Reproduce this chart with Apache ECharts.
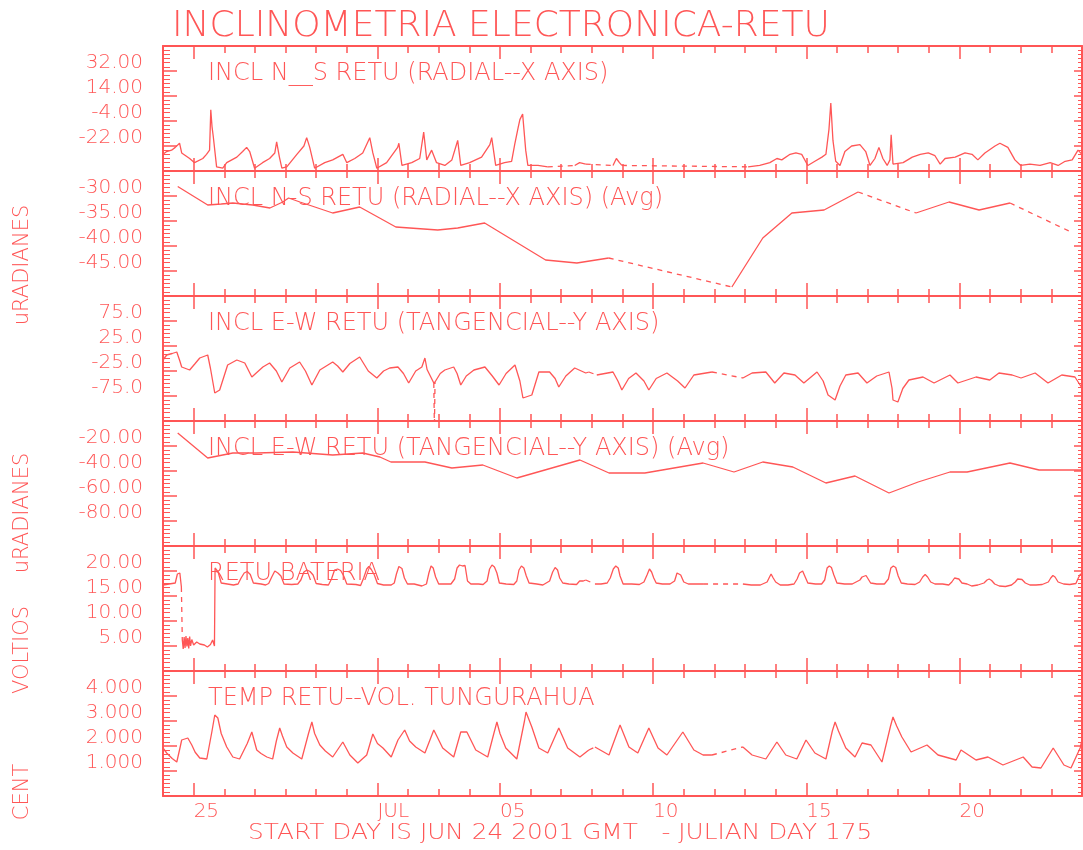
<!DOCTYPE html>
<html>
<head>
<meta charset="utf-8">
<title>INCLINOMETRIA ELECTRONICA-RETU</title>
<script src="https://cdn.jsdelivr.net/npm/echarts@6.0.0/dist/echarts.min.js"></script>
<style>
  html, body { margin: 0; padding: 0; background: #ffffff; }
  #chart { width: 1083px; height: 850px; }
</style>
</head>
<body>
<div id="chart"></div>
<script>
// x is days since JUN 24 2001 00:00 GMT
var dayTickValues = [1, 7, 11, 16, 21, 26];
var dayTickLabels = ["25", "JUL", "05", "10", "15", "20"];

var panelTitles = [
  "INCL N__S RETU (RADIAL--X AXIS)",
  "INCL N-S RETU (RADIAL--X AXIS) (Avg)",
  "INCL E-W RETU (TANGENCIAL--Y AXIS)",
  "INCL E-W RETU (TANGENCIAL--Y AXIS) (Avg)",
  "RETU BATERIA",
  "TEMP RETU--VOL. TUNGURAHUA"
];
var yMins = [-40, -50, -125, -100, 0, 0];
var yMaxs = [50, -25, 125, 0, 25, 5];
var ySteps = [18, 5, 50, 20, 5, 1];
var yDecimals = [2, 2, 1, 2, 2, 3];

// null = missing data (drawn dashed across the gap)
var nsRaw = [
  [0,-28],[0.12,-26],[0.28,-25],[0.4,-23],[0.54,-20],[0.61,-27],[0.87,-31],[1.03,-34],[1.3,-31],[1.42,-28],
  [1.52,-25],[1.56,4],[1.6,-8],[1.64,-15],[1.75,-37],[1.95,-38],[2.08,-34],[2.41,-30],[2.6,-26],[2.73,-23],
  [2.83,-26],[2.99,-38],[3.25,-34],[3.48,-31],[3.65,-27],[3.71,-19],[3.8,-30],[3.88,-38],[4.04,-37],[4.37,-28],
  [4.6,-22],[4.69,-16],[4.79,-23],[4.95,-38],[5.28,-34],[5.54,-32],[5.87,-28],[6.0,-34],[6.26,-31],[6.52,-27],
  [6.75,-16],[6.85,-27],[6.98,-38],[7.3,-34],[7.66,-23],[7.7,-20],[7.8,-36],[8.12,-34],[8.38,-31],[8.51,-12],
  [8.61,-32],[8.77,-25],[8.93,-34],[9.2,-36],[9.43,-32],[9.62,-18],[9.72,-36],[10.01,-34],[10.4,-30],[10.67,-21],
  [10.73,-16],[10.86,-36],[11.15,-34],[11.38,-33],[11.48,-21],[11.6,-8],[11.65,-3],[11.74,1],[11.84,-25],[11.91,-36],
  [12.24,-36],[12.56,-37],
  null,
  [13.44,-36],[13.6,-34],[13.8,-35],
  null,
  [14.69,-36],[14.8,-31],[14.9,-34],[14.98,-36],
  null,
  [19.1,-37],[19.48,-36],[19.81,-34],[20.04,-31],[20.2,-32],[20.47,-28],[20.66,-27],[20.85,-28],[21.05,-36],[21.28,-33],
  [21.51,-30],[21.64,-28],[21.74,-10],[21.8,9],[21.87,-18],[21.96,-33],[22.1,-36],[22.26,-26],[22.48,-22],[22.75,-21],
  [22.94,-26],[23.08,-36],[23.24,-31],[23.37,-23],[23.5,-31],[23.64,-36],[23.73,-32],[23.77,-14],[23.83,-35],[24.16,-34],
  [24.46,-30],[24.72,-28],[24.98,-27],[25.2,-29],[25.37,-35],[25.53,-31],[25.86,-30],[26.18,-27],[26.41,-28],[26.6,-32],
  [26.83,-27],[27.16,-22],[27.32,-20],[27.58,-23],[27.81,-32],[28.0,-36],[28.3,-35],[28.63,-36],[28.96,-34],[29.22,-36],
  [29.45,-33],[29.68,-32],[29.87,-25],[30,-28]
];

var nsAvg = [
  [0.48,-28.1],[1.46,-31.8],[1.9,-31.6],[2.28,-31.4],[2.93,-31.8],[3.49,-32.4],[3.91,-31.2],[4.1,-30.4],[4.47,-31.2],
  [5.54,-33.4],[6.42,-32.2],[7.07,-34.4],[7.6,-36.2],[8.97,-36.8],[9.62,-36.4],[10.5,-35.4],[12.49,-42.8],
  [13.51,-43.4],[14.55,-42.4],
  null,
  [18.57,-48.2],[19.58,-38.4],[20.53,-33.4],[21.58,-32.8],[22.69,-29.2],
  null,
  [24.58,-33.4],[25.66,-31.2],[26.64,-32.8],[27.65,-31.4],
  null,
  [29.71,-37.4]
];

var ewRaw = [
  [0,-3],[0.12,7],[0.3,10],[0.45,13],[0.55,-5],[0.61,-17],[0.87,-23],[1.05,-10],[1.2,1],[1.46,7],
  [1.55,-20],[1.69,-69],[1.85,-63],[2.11,-13],[2.41,-3],[2.67,-9],[2.9,-37],[3.26,-17],[3.48,-9],[3.7,-25],
  [3.88,-47],[4.14,-19],[4.46,-7],[4.65,-25],[4.86,-53],[5.12,-23],[5.54,-7],[5.7,-15],[5.87,-27],[6.1,-10],
  [6.42,3],[6.7,-25],[6.98,-39],[7.2,-25],[7.4,-19],[7.67,-17],[7.85,-30],[8.02,-49],[8.25,-25],[8.45,-17],
  [8.55,1],[8.62,-22],[8.84,-49],
  null,
  [8.88,-47],[9.05,-30],[9.2,-23],[9.49,-17],[9.6,-30],[9.72,-53],[9.9,-35],[10.15,-23],[10.51,-17],[10.75,-35],
  [10.97,-53],[11.2,-30],[11.49,-13],[11.55,-9],[11.65,-45],[11.75,-79],[12.04,-73],[12.27,-27],[12.62,-27],[12.8,-40],
  [12.92,-57],[13.15,-35],[13.44,-19],[13.8,-29],[13.9,-27],
  null,
  [14.16,-33],[14.69,-27],[14.85,-45],[14.98,-63],[15.2,-40],[15.44,-29],[15.7,-45],[15.86,-63],[16.1,-40],[16.45,-29],
  [16.8,-45],[17.04,-59],[17.33,-33],[17.92,-27],
  null,
  [18.93,-39],[19.23,-29],[19.68,-27],[19.97,-49],[20.27,-29],[20.63,-33],[20.92,-49],[21.35,-27],[21.55,-45],[21.71,-73],
  [21.94,-83],[22.1,-55],[22.29,-33],[22.69,-29],[22.98,-49],[23.3,-35],[23.7,-27],[23.8,-60],[23.83,-83],[23.99,-87],
  [24.15,-60],[24.35,-43],[24.81,-37],[25.17,-49],[25.69,-33],[25.95,-49],[26.54,-37],[26.99,-43],[27.29,-29],[27.72,-33],
  [28.01,-39],[28.47,-29],[28.89,-49],[29.34,-33],[29.77,-37],[30,-59]
];
// off-scale excursion on Jul 02, drawn dashed
var ewRawDrop = [[8.84,-49],[8.86,-140],[8.88,-47]];

var ewAvg = [
  [0.48,-9.6],[1.46,-29.6],[2.28,-25.6],[3.06,-25.6],[4.24,-24.8],[5.54,-27.2],[6.52,-25.6],[7.08,-28.8],[7.44,-32.8],
  [8.55,-32.8],[9.43,-37.6],[10.44,-35.2],[11.55,-45.6],[13.61,-31.2],[14.56,-41.6],[15.73,-41.6],[17.63,-33.6],
  [18.64,-40.8],[19.58,-32.8],[20.56,-36.8],[21.64,-49.6],[22.59,-44.0],[23.7,-57.6],[24.65,-48.8],[25.69,-40.8],
  [26.25,-40.8],[27.65,-33.6],[28.6,-39.2],[30,-39.2]
];

var battery = [
  [0,17.2],[0.2,17.4],[0.4,17.6],[0.47,19.4],[0.5,19.8],[0.55,19.6],[0.6,16.8],
  null,
  [0.63,6.2],[0.66,4.4],[0.69,6.8],[0.72,4.6],[0.75,7.0],[0.78,4.9],[0.81,6.6],[0.84,4.5],[0.87,6.9],[0.9,5.0],
  [0.94,6.3],[1.0,5.2],[1.1,5.8],[1.2,5.4],[1.35,5.2],[1.45,4.8],[1.55,5.3],[1.62,6.2],[1.68,5.0],
  [1.7,20.6],[1.75,20.9],[1.8,19.8],[1.9,17.6],[2.1,17.4],[2.3,17.2],
  [2.45,17.4],[2.55,18.6],[2.65,19.6],[2.75,19.9],[2.85,19.3],[2.95,17.6],[3.2,17.4],[3.35,17.2],
  [3.45,17.5],[3.55,18.8],[3.65,20.0],[3.75,19.6],[3.85,19.0],[3.95,17.4],[4.2,17.3],[4.4,17.4],
  [4.5,18.2],[4.6,19.8],[4.7,20.2],[4.8,19.9],[4.9,19.2],[5.0,17.5],[5.2,17.3],[5.4,17.2],
  [5.5,18.4],[5.6,20.2],[5.7,20.4],[5.8,20.1],[5.9,19.0],[6.0,17.4],[6.3,17.3],[6.45,17.1],
  [6.55,18.6],[6.65,20.4],[6.72,20.9],[6.8,20.3],[6.9,19.2],[7.0,17.5],[7.2,17.2],[7.45,17.2],
  [7.55,17.6],[7.62,19.4],[7.7,20.9],[7.75,21.2],[7.8,20.5],[7.88,18.6],[7.98,17.4],[8.2,17.4],[8.45,17.0],
  [8.6,17.4],[8.68,19.6],[8.75,21.0],[8.82,20.6],[8.9,18.8],[9.0,17.4],[9.2,17.4],[9.4,17.4],
  [9.52,18.4],[9.6,20.6],[9.68,21.2],[9.78,21.0],[9.86,21.1],[9.94,18.0],[10.05,17.4],[10.3,17.4],[10.45,17.3],
  [10.58,18.0],[10.66,20.4],[10.74,21.2],[10.82,20.8],[10.9,19.6],[10.98,17.6],[11.2,17.4],[11.45,17.3],
  [11.55,18.0],[11.62,20.2],[11.7,21.0],[11.78,20.6],[11.86,19.0],[11.95,17.6],[12.2,17.4],[12.4,17.2],
  [12.62,18.0],[12.72,19.8],[12.8,20.7],[12.88,20.2],[12.95,18.6],[13.05,17.6],[13.25,17.4],[13.5,17.3],
  [13.6,18.0],[13.66,18.4],[13.72,18.0],[13.8,18.2],
  null,
  [14.1,17.4],[14.3,17.4],[14.5,17.6],
  [14.6,18.6],[14.7,20.4],[14.78,21.0],[14.86,20.6],[14.92,19.0],[15.02,17.4],[15.3,17.4],[15.55,17.3],
  [15.7,17.8],[15.8,19.2],[15.88,20.4],[15.95,19.8],[16.02,18.6],[16.1,17.6],[16.3,17.4],[16.55,17.4],
  [16.7,18.0],[16.78,19.6],[16.84,20.0],[16.9,19.2],[17.0,17.8],[17.15,17.4],[17.4,17.4],[17.63,17.4],
  null,
  [18.93,17.4],[19.2,17.2],[19.5,17.2],
  [19.72,17.8],[19.8,18.8],[19.85,19.4],[19.92,18.6],[20.0,17.8],[20.15,17.2],[20.4,17.2],[20.6,17.4],
  [20.7,18.4],[20.78,19.6],[20.84,19.2],[20.88,20.0],[20.95,19.0],[21.05,17.6],[21.3,17.4],[21.5,17.4],
  [21.6,18.2],[21.68,20.6],[21.75,21.0],[21.82,20.7],[21.9,19.2],[22.0,17.6],[22.25,17.4],[22.5,17.4],
  [22.75,18.2],[22.82,18.8],[22.88,18.4],[22.95,19.1],[23.02,18.4],[23.1,17.6],[23.3,17.4],[23.55,17.4],
  [23.68,18.4],[23.76,20.6],[23.84,21.0],[23.92,20.7],[24.0,19.0],[24.1,17.6],[24.3,17.4],[24.55,17.3],
  [24.7,17.8],[24.8,18.8],[24.88,19.3],[24.96,18.8],[25.06,17.8],[25.2,17.4],[25.45,17.4],[25.65,17.2],
  [25.75,17.8],[25.84,18.6],[25.9,18.8],[25.98,18.4],[26.08,17.6],[26.25,17.4],[26.4,17.0],[26.6,17.2],
  [26.8,17.6],[26.9,18.2],[26.97,18.4],[27.05,18.1],[27.15,17.4],[27.3,17.0],[27.5,16.9],[27.7,17.2],
  [27.82,17.8],[27.9,18.4],[27.96,18.8],[28.04,18.3],[28.15,17.6],[28.3,17.2],[28.5,17.2],[28.7,17.3],
  [28.9,17.8],[28.98,18.6],[29.05,19.1],[29.12,18.8],[29.22,17.8],[29.4,17.4],[29.6,17.3],[29.8,17.5],
  [29.88,18.6],[29.95,19.4],[30,19.0]
];

var temperature = [
  [0,1.92],[0.12,1.72],[0.3,1.5],[0.45,1.36],[0.55,1.9],[0.61,2.24],[0.81,2.32],[0.94,2.04],[1.05,1.75],[1.2,1.52],
  [1.43,1.48],[1.6,2.6],[1.69,3.24],[1.79,3.12],[1.9,2.5],[2.08,1.96],[2.28,1.56],[2.5,1.48],[2.75,2.1],[2.9,2.56],
  [3.06,1.84],[3.2,1.7],[3.39,1.56],[3.58,1.48],[3.7,2.2],[3.81,2.72],[3.9,2.4],[4.04,1.96],[4.24,1.72],[4.53,1.48],
  [4.75,2.5],[4.86,2.96],[4.95,2.5],[5.12,2.04],[5.3,1.8],[5.54,1.56],[5.87,2.16],[6.1,1.64],[6.36,1.32],[6.65,1.64],
  [6.85,2.48],[7.0,2.1],[7.18,1.92],[7.45,1.56],[7.67,2.24],[7.89,2.64],[8.05,2.2],[8.25,1.96],[8.55,1.72],[8.84,2.64],
  [9.13,1.92],[9.49,1.56],[9.72,2.56],[9.92,2.56],[10.21,1.84],[10.6,1.56],[10.8,2.5],[10.9,2.96],[11.0,2.5],[11.19,1.92],
  [11.55,1.48],[11.8,3.0],[11.85,3.36],[12.04,2.76],[12.27,1.92],[12.56,1.72],[12.92,2.72],[13.21,1.92],[13.61,1.56],[13.9,1.84],
  null,
  [14.1,1.96],[14.56,1.64],[14.92,2.84],[15.21,1.96],[15.5,1.72],[15.86,2.72],[16.16,1.92],[16.45,1.64],[16.97,2.56],[17.33,1.84],
  [17.63,1.64],[17.92,1.64],
  null,
  [18.93,1.96],[19.23,1.64],[19.68,1.48],[20.04,2.16],[20.33,1.64],[20.69,1.48],[20.99,2.24],[21.28,1.72],[21.64,1.48],[21.85,2.6],
  [21.94,2.96],[22.05,2.6],[22.29,1.92],[22.59,1.56],[22.82,2.12],[23.11,2.04],[23.47,1.36],[23.75,2.8],[23.83,3.16],[23.95,2.8],
  [24.12,2.36],[24.42,1.76],[24.94,2.04],[25.3,1.64],[25.89,1.44],[26.05,1.84],[26.54,1.44],[26.93,1.56],[27.42,1.24],[28.08,1.56],
  [28.37,1.16],[28.66,1.12],[29.06,1.92],[29.41,1.24],[29.64,1.12],[29.94,1.92],[30,2.24]
];

var panelData = [nsRaw, nsAvg, ewRaw, ewAvg, battery, temperature];
var panelExtraDashed = [[], [], ewRawDrop, [], [], []];

var RED = "#ff5656";
var FONT = "DejaVu Sans";
var PLOT_LEFT = 163;
var PLOT_TOP = 46;
var PLOT_W = 919;
var PANEL_H = 125;

// dashed segments joining the points on each side of a gap
function gapBridges(data) {
  var out = [];
  for (var k = 1; k < data.length - 1; k++) {
    if (data[k] === null && data[k - 1] && data[k + 1]) {
      if (out.length) out.push(null);
      out.push(data[k - 1], data[k + 1]);
    }
  }
  return out;
}

// main title, panel titles, unit names, start-day note
function textItem(text, x, y, size, rot, align, sx) {
  return {
    type: "text", x: x, y: y, rotation: rot || 0, scaleX: sx || 1, silent: true,
    style: {
      text: text, fill: RED, font: "300 " + size + "px '" + FONT + "'",
      align: align || "center", verticalAlign: "middle",
      textAlign: align || "center", textVerticalAlign: "middle"
    }
  };
}

var grids = [], xAxes = [], yAxes = [], series = [], graphics = [];

function xAxisDef(i, pos, major) {
  var ax = {
    gridIndex: i, type: "value", min: 0, max: 30, position: pos,
    axisLine: { show: !major, onZero: false, lineStyle: { color: RED, width: 2 } },
    axisTick: { show: true, inside: true, length: major ? 13 : 7, lineStyle: { color: RED, width: 1.5 } },
    axisLabel: { show: false },
    splitLine: { show: false }
  };
  if (major) {
    ax.axisTick.customValues = dayTickValues;
    if (i === 5 && pos === "bottom") {
      ax.axisLabel = {
        show: true, customValues: dayTickValues, color: RED, fontFamily: FONT, fontWeight: 300,
        fontSize: 20, align: "left", margin: 6,
        formatter: function (v) { return dayTickLabels[dayTickValues.indexOf(v)]; }
      };
    }
  } else {
    ax.interval = 1;
  }
  return ax;
}

function yLabelFormatter(dec) {
  return function (v) { return v.toFixed(dec); };
}

for (var i = 0; i < 6; i++) {
  var panelTop = PLOT_TOP + i * PANEL_H;
  grids.push({ left: PLOT_LEFT, top: panelTop, width: PLOT_W, height: PANEL_H, containLabel: false });

  xAxes.push(xAxisDef(i, "bottom", false));
  xAxes.push(xAxisDef(i, "bottom", true));
  xAxes.push(xAxisDef(i, "top", false));
  xAxes.push(xAxisDef(i, "top", true));

  yAxes.push({
    gridIndex: i, type: "value", position: "left",
    min: yMins[i], max: yMaxs[i], interval: ySteps[i],
    axisLine: { show: true, onZero: false, lineStyle: { color: RED, width: 2 } },
    axisTick: { show: true, inside: true, length: 14, lineStyle: { color: RED, width: 1.5 } },
    minorTick: { show: true, splitNumber: 6, length: 7, lineStyle: { color: RED, width: 1 } },
    axisLabel: {
      show: true, margin: 20, color: RED, fontFamily: FONT, fontWeight: 300, fontSize: 20,
      verticalAlign: "bottom", lineHeight: 16,
      showMinLabel: false, showMaxLabel: false,
      formatter: yLabelFormatter(yDecimals[i])
    },
    splitLine: { show: false }
  });

  yAxes.push({
    gridIndex: i, type: "value", position: "right",
    min: yMins[i], max: yMaxs[i], interval: ySteps[i],
    axisLine: { show: true, onZero: false, lineStyle: { color: RED, width: 2 } },
    axisTick: { show: true, inside: true, length: 8, lineStyle: { color: RED, width: 1.5 } },
    minorTick: { show: true, splitNumber: 6, length: 4, lineStyle: { color: RED, width: 1 } },
    axisLabel: { show: false },
    splitLine: { show: false }
  });

  series.push({
    type: "line", xAxisIndex: 4 * i, yAxisIndex: 2 * i,
    data: panelData[i], symbol: "none", connectNulls: false, silent: true,
    lineStyle: { color: RED, width: 1.3 }
  });

  var dashed = gapBridges(panelData[i]);
  if (panelExtraDashed[i].length) {
    if (dashed.length) dashed.push(null);
    dashed = dashed.concat(panelExtraDashed[i]);
  }
  series.push({
    type: "line", xAxisIndex: 4 * i, yAxisIndex: 2 * i,
    data: dashed, symbol: "none", connectNulls: false, silent: true,
    lineStyle: { color: RED, width: 1.3, type: [5, 5] }
  });

  graphics.push(textItem(panelTitles[i], 208, panelTop + 28, 24, 0, "left"));
}

graphics.push(textItem("INCLINOMETRIA ELECTRONICA-RETU", 172, 27, 36, 0, "left", 1.0));
graphics.push(textItem("uRADIANES", 23, 265, 21, Math.PI / 2));
graphics.push(textItem("uRADIANES", 23, 513, 21, Math.PI / 2));
graphics.push(textItem("VOLTIOS", 23, 650, 21, Math.PI / 2));
graphics.push(textItem("CENT", 23, 792, 21, Math.PI / 2));
graphics.push(textItem("START DAY IS JUN 24 2001 GMT   - JULIAN DAY 175", 248, 834, 21, 0, "left", 1.18));

var chart = echarts.init(document.getElementById("chart"));
chart.setOption({
  animation: false,
  backgroundColor: "#ffffff",
  grid: grids,
  xAxis: xAxes,
  yAxis: yAxes,
  series: series,
  graphic: graphics
});
</script>
</body>
</html>
